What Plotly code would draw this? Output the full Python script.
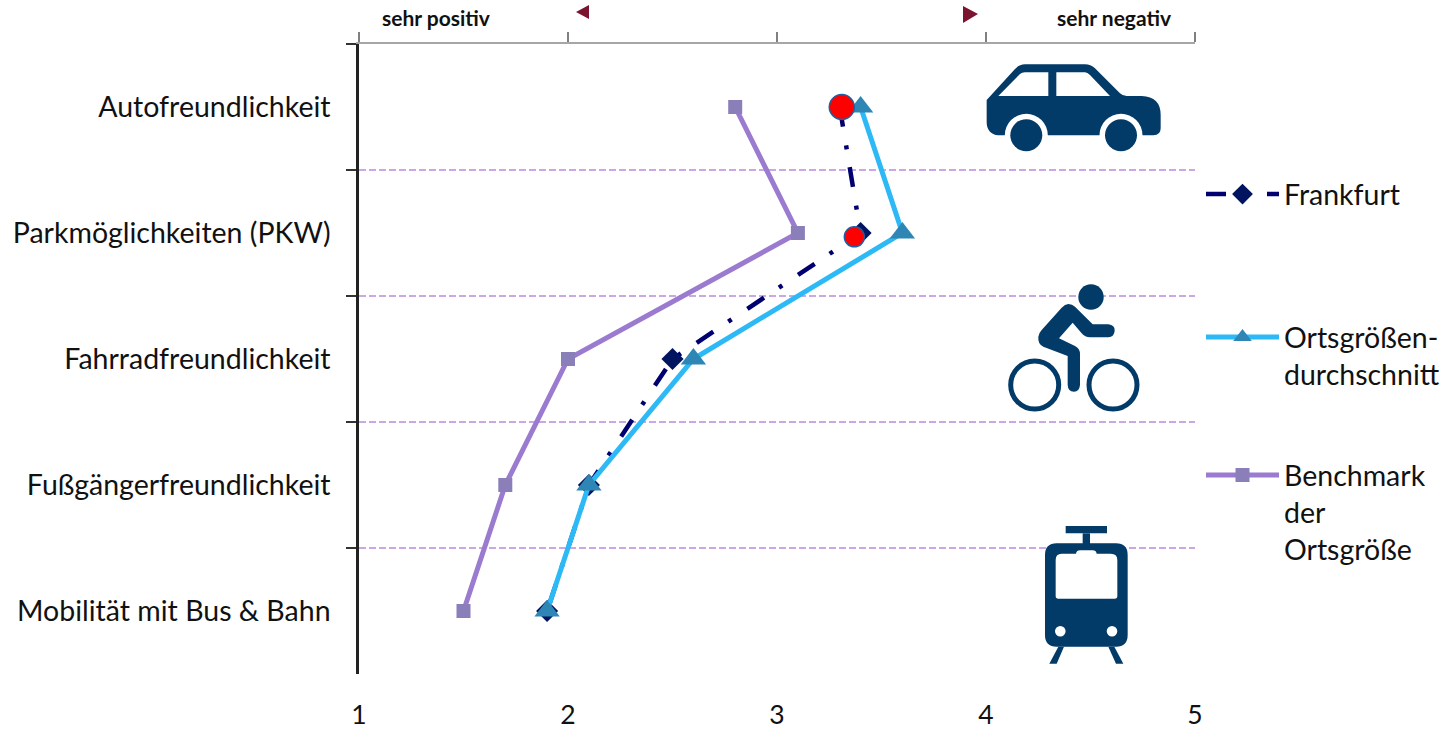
import re
import plotly.graph_objects as go

W, H = 1446, 729
LEFT, RIGHT, TOP, BOTTOM = 359, 1195, 44, 674
FONT = "Lato"
TEXT_SIZE = 28.5
TICK_SIZE = 26.5

categories = ["Autofreundlichkeit", "Parkmöglichkeiten (PKW)", "Fahrradfreundlichkeit",
              "Fußgängerfreundlichkeit", "Mobilität mit Bus & Bahn"]
frankfurt = [3.3, 3.4, 2.5, 2.1, 1.9]
ortsgroesse = [3.4, 3.6, 2.6, 2.1, 1.9]
benchmark = [2.8, 3.1, 2.0, 1.7, 1.5]
highlight_x = [3.31, 3.37]
highlight_row = [0, 1.03]
highlight_size = [25, 20]
x_ticks = [1, 2, 3, 4, 5]

NAVY = "#023A68"
CRIMSON = "#7B1431"


def px(x):
    return x / W


def py(y):
    return 1 - y / H


def icon_path(commands, ox, oy):
    """Scale a path drawn on a 3x grid and move it to its place on the page."""
    out = []
    for letter, nums in re.findall(r"([MLQZ])([^MLQZ]*)", commands):
        vals = [float(v) for v in nums.replace(",", " ").split()]
        pts = []
        for i in range(0, len(vals), 2):
            pts.append(f"{px(ox + vals[i] / 3):.5f},{py(oy + vals[i + 1] / 3):.5f}")
        out.append(letter + " ".join(pts))
    return " ".join(out)


def solid(commands, ox, oy, color=NAVY):
    return dict(type="path", xref="paper", yref="paper", layer="above",
                path=icon_path(commands, ox, oy), fillcolor=color, line=dict(width=0))


def disc(cx, cy, r, color=NAVY, ring=None):
    line = dict(width=0) if ring is None else dict(width=ring, color=color)
    return dict(type="circle", xref="paper", yref="paper", layer="above",
                x0=px(cx - r), x1=px(cx + r), y0=py(cy + r), y1=py(cy - r),
                fillcolor="rgba(0,0,0,0)" if ring else color, line=line)


CAR = ("M620 150 L705 57 Q718 43 735 43 L915 43 Q932 43 945 55 L1020 130 Q1028 138 1040 138 "
       "L1085 138 Q1142 140 1142 195 L1142 235 Q1142 256 1120 256 L655 256 Q620 252 620 215 Z "
       "M655 138 L720 72 Q725 67 735 67 L805 67 L805 138 Z "
       "M829 67 L915 67 Q922 67 930 75 L990 138 L829 138 Z")
RIDER = ("M235 102 Q247 102 255 110 L308 163 L355 163 Q375 165 374 182 Q373 200 355 202 "
         "L300 202 Q285 202 275 190 L248 158 L207 205 L255 228 Q270 236 270 252 L270 345 "
         "Q268 365 252 365 Q234 365 233 345 L233 258 L160 230 Q143 222 145 200 Q146 190 155 180 "
         "L215 113 Q225 102 235 102 Z")
TRAM = ("M110 100 L288 100 Q323 100 323 135 L323 375 Q323 410 288 410 L110 410 Q75 410 75 375 "
        "L75 135 Q75 100 110 100 Z "
        "M125 131 L168 131 Q170 121 180 121 L218 121 Q228 121 230 131 L272 131 Q292 131 292 150 "
        "L292 258 Q292 266 284 266 L115 266 Q107 266 107 258 L107 150 Q107 131 125 131 Z")
TRAM_PARTS = ["M137 48 L261 48 L261 70 L137 70 Z", "M188 70 L210 70 L210 102 L188 102 Z",
              "M115 410 L132 410 L110 461 L88 461 Z", "M265 410 L283 410 L310 461 L288 461 Z"]

shapes = [
    solid(CAR, 780, 50),
    disc(1026.3, 135.3, 21.5, "#FFFFFF"), disc(1026.3, 135.3, 16),
    disc(1121, 135.3, 21.5, "#FFFFFF"), disc(1121, 135.3, 16),
    solid(RIDER, 990, 270),
    disc(1091, 297, 12.7),
    disc(1034.7, 385, 24, ring=5), disc(1113, 385, 24, ring=5),
    solid(TRAM, 1020, 510),
    *[solid(p, 1020, 510) for p in TRAM_PARTS],
    disc(1060.3, 631.3, 5.3, "#FFFFFF"), disc(1112, 631.3, 5.3, "#FFFFFF"),
    # direction arrows beside the scale captions
    dict(type="path", xref="paper", yref="paper", fillcolor=CRIMSON, line=dict(width=0),
         path=f"M{px(576)},{py(12)} L{px(589)},{py(5)} L{px(589)},{py(19)} Z"),
    dict(type="path", xref="paper", yref="paper", fillcolor=CRIMSON, line=dict(width=0),
         path=f"M{px(978)},{py(14)} L{px(963)},{py(6)} L{px(963)},{py(23)} Z"),
]

fig = go.Figure()
fig.add_trace(go.Scatter(
    x=frankfurt, y=categories, name="Frankfurt", mode="lines+markers", legend="legend",
    line=dict(color="#000070", width=4.5, dash="20px,19px,4px,18px"),
    marker=dict(symbol="diamond", size=17, color="#00145F"), cliponaxis=False))
fig.add_trace(go.Scatter(
    x=ortsgroesse, y=categories, name="Ortsgrößen-<br>durchschnitt", mode="lines+markers", legend="legend2",
    line=dict(color="#2DB9F5", width=5),
    marker=dict(symbol="triangle-up", size=22, color="#2E86B5"), cliponaxis=False))
fig.add_trace(go.Scatter(
    x=benchmark, y=categories, name="Benchmark<br>der<br>Ortsgröße", mode="lines+markers", legend="legend3",
    line=dict(color="#9B7BD0", width=5),
    marker=dict(symbol="square", size=14, color="#8A7FB8"), cliponaxis=False))
fig.add_trace(go.Scatter(
    x=highlight_x, y=highlight_row, xaxis="x2", yaxis="y2", mode="markers", showlegend=False,
    marker=dict(symbol="circle", size=highlight_size, color="#FF0000", opacity=1,
                line=dict(color="#1F5FA0", width=1.5)), cliponaxis=False))


def legend_at(top):
    return dict(x=px(1201), y=py(top), xanchor="left", yanchor="top", bgcolor="rgba(0,0,0,0)",
                itemwidth=73, valign="top", tracegroupgap=0, borderwidth=0,
                font=dict(family=FONT, size=TEXT_SIZE, color="#111111"))


fig.update_layout(
    width=W, height=H, margin=dict(l=0, r=0, t=0, b=0, autoexpand=False), autosize=False,
    paper_bgcolor="white", plot_bgcolor="white", showlegend=True,
    font=dict(family=FONT, size=TEXT_SIZE, color="#111111"),
    xaxis=dict(domain=[px(LEFT), px(RIGHT)], range=[1, 5], tickvals=x_ticks, showgrid=False,
               zeroline=False, showline=False, ticks="outside", ticklen=17, tickcolor="rgba(0,0,0,0)",
               automargin=False, tickfont=dict(family=FONT, size=TICK_SIZE, color="#111111")),
    yaxis=dict(domain=[py(BOTTOM), py(TOP)], type="category", categoryorder="array",
               categoryarray=categories, range=[4.5, -0.5], tickson="boundaries", ticks="outside",
               ticklen=10, tickwidth=2, tickcolor="#333333", showline=True, linecolor="#222222",
               linewidth=2.5, showgrid=True, gridcolor="#C9A8E5", griddash="7px,3px", gridwidth=2,
               ticklabelstandoff=20, zeroline=False, automargin=False,
               tickfont=dict(family=FONT, size=TEXT_SIZE, color="#111111")),
    xaxis2=dict(domain=[px(LEFT), px(RIGHT)], range=[1, 5], overlaying="x", side="top", anchor="y2",
                tickvals=x_ticks, showticklabels=False, showgrid=False, zeroline=False, showline=True,
                linecolor="#A6A6A6", linewidth=2, ticks="outside", ticklen=10, tickwidth=1.5,
                tickcolor="#808080", automargin=False),
    yaxis2=dict(domain=[py(BOTTOM), py(TOP)], range=[4.5, -0.5], overlaying="y", side="right",
                anchor="x2", visible=False),
    legend=legend_at(169),
    legend2=legend_at(312),
    legend3=legend_at(450),
    shapes=shapes,
    annotations=[
        dict(text="<b>sehr positiv</b>", xref="paper", yref="paper", x=px(436), y=py(17),
             xanchor="center", yanchor="middle", showarrow=False,
             font=dict(family=FONT, size=21, color="#111111")),
        dict(text="<b>sehr negativ</b>", xref="paper", yref="paper", x=px(1114), y=py(17),
             xanchor="center", yanchor="middle", showarrow=False,
             font=dict(family=FONT, size=21, color="#111111")),
    ],
)

fig.write_html("out.html")
